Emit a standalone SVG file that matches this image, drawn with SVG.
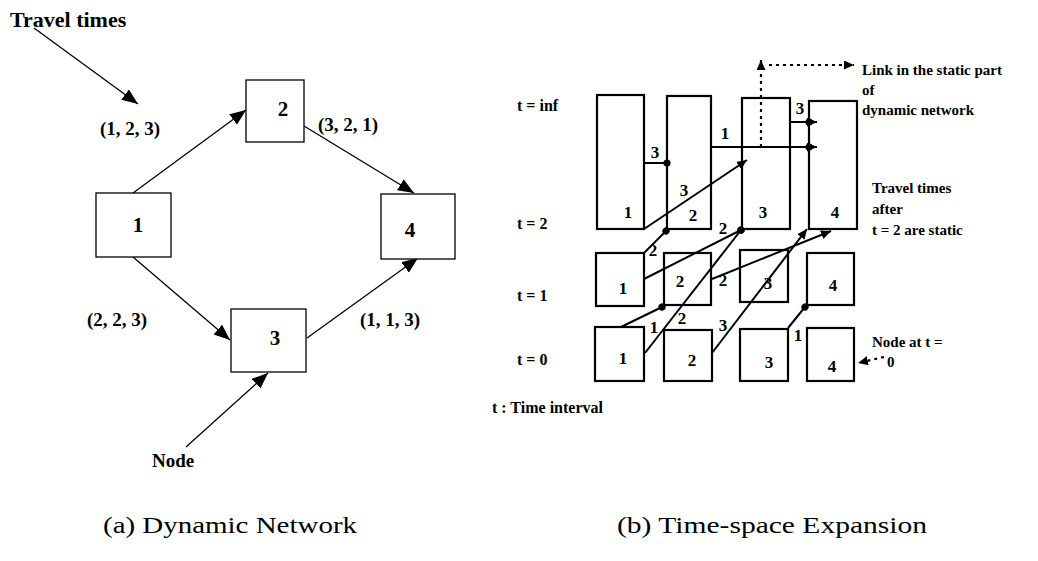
<svg xmlns="http://www.w3.org/2000/svg" width="1038" height="561" viewBox="0 0 1038 561">
<style>
text{font-family:"Liberation Serif","Times New Roman",serif;fill:#000}
.b{font-weight:bold}
.lnode{fill:#fff;stroke:#000;stroke-width:1.3}
.rnode{fill:#fff;stroke:#000;stroke-width:2.2}
.lc{stroke:#000;stroke-width:1.3;fill:none}
.rc{stroke:#000;stroke-width:2;fill:none}
.dot{stroke:#000;stroke-width:2.2;stroke-dasharray:3 4;fill:none}
.ln{font-size:21px;font-weight:bold}
.lt{font-size:19px;font-weight:bold}
.rn{font-size:17px;font-weight:bold}
.rl{font-size:16px;font-weight:bold}
.ann{font-size:15px;font-weight:bold}
.cap{font-size:23px}
</style>
<defs>
<marker id="bigArr" markerUnits="userSpaceOnUse" markerWidth="18" markerHeight="14" refX="16" refY="6.5" orient="auto"><path d="M0,0 L16,6.5 L0,13 z" fill="#000"/></marker>
<marker id="smArr" markerUnits="userSpaceOnUse" markerWidth="12" markerHeight="10" refX="10" refY="4.5" orient="auto"><path d="M0,0 L10,4.5 L0,9 z" fill="#000"/></marker>
<marker id="dotEnd" markerUnits="userSpaceOnUse" markerWidth="10" markerHeight="10" refX="5" refY="5" orient="auto"><circle cx="5" cy="5" r="3.6" fill="#000"/></marker>
</defs>

<!-- Left: dynamic network -->
<g id="connectors-left">
<line class="lc" x1="34" y1="28" x2="138" y2="104" marker-end="url(#bigArr)"/>
<line class="lc" x1="133" y1="193" x2="246" y2="110" marker-end="url(#bigArr)"/>
<line class="lc" x1="304" y1="126" x2="414" y2="193" marker-end="url(#bigArr)"/>
<line class="lc" x1="133" y1="257" x2="230" y2="340" marker-end="url(#bigArr)"/>
<line class="lc" x1="307" y1="338" x2="418" y2="258" marker-end="url(#bigArr)"/>
<line class="lc" x1="186" y1="447" x2="268" y2="373" marker-end="url(#bigArr)"/>
</g>
<g id="ln1"><rect class="lnode" x="96" y="193" width="75" height="64"/><text class="ln" x="138" y="232" text-anchor="middle">1</text></g>
<g id="ln2"><rect class="lnode" x="246" y="80" width="58" height="62"/><text class="ln" x="283" y="116" text-anchor="middle">2</text></g>
<g id="ln3"><rect class="lnode" x="231" y="309" width="75" height="63"/><text class="ln" x="275" y="345" text-anchor="middle">3</text></g>
<g id="ln4"><rect class="lnode" x="381" y="194" width="74" height="65"/><text class="ln" x="410" y="237" text-anchor="middle">4</text></g>
<g id="labels-left">
<text class="b" x="10" y="27" font-size="22">Travel times</text>
<text class="lt" x="100" y="135">(1, 2, 3)</text>
<text class="lt" x="318" y="131">(3, 2, 1)</text>
<text class="lt" x="87" y="326">(2, 2, 3)</text>
<text class="lt" x="360" y="326">(1, 1, 3)</text>
<text class="lt" x="152" y="467">Node</text>
</g>

<!-- Right: time-space expansion -->
<g id="s1"><rect class="rnode" x="597" y="95" width="47" height="134"/><text class="rn" x="628" y="218" text-anchor="middle">1</text></g>
<g id="s2"><rect class="rnode" x="667" y="96" width="44" height="133"/><text class="rn" x="693" y="221" text-anchor="middle">2</text></g>
<g id="s3"><rect class="rnode" x="742" y="98" width="48" height="131"/><text class="rn" x="763" y="218" text-anchor="middle">3</text></g>
<g id="s4"><rect class="rnode" x="809" y="101" width="48" height="128"/><text class="rn" x="835" y="218" text-anchor="middle">4</text></g>
<g id="a1"><rect class="rnode" x="596" y="253" width="48" height="53"/><text class="rn" x="623" y="294" text-anchor="middle">1</text></g>
<g id="a2"><rect class="rnode" x="664" y="253" width="47" height="52"/><text class="rn" x="680" y="287" text-anchor="middle">2</text></g>
<g id="a3"><rect class="rnode" x="740" y="250" width="48" height="52"/><text class="rn" x="768" y="289" text-anchor="middle">3</text></g>
<g id="a4"><rect class="rnode" x="807" y="253" width="47" height="52"/><text class="rn" x="833" y="291" text-anchor="middle">4</text></g>
<g id="b1"><rect class="rnode" x="595" y="327" width="49" height="54"/><text class="rn" x="623" y="364" text-anchor="middle">1</text></g>
<g id="b2"><rect class="rnode" x="664" y="330" width="48" height="51"/><text class="rn" x="692" y="366" text-anchor="middle">2</text></g>
<g id="b3"><rect class="rnode" x="740" y="329" width="48" height="52"/><text class="rn" x="769" y="368" text-anchor="middle">3</text></g>
<g id="b4"><rect class="rnode" x="807" y="328" width="47" height="53"/><text class="rn" x="832" y="372" text-anchor="middle">4</text></g>

<g id="connectors-right">
<line class="rc" x1="644" y1="163" x2="667" y2="163" marker-end="url(#dotEnd)"/>
<line class="rc" x1="711" y1="147" x2="817" y2="147" marker-end="url(#smArr)"/>
<circle cx="809" cy="147" r="3.6"/>
<line class="rc" x1="790" y1="122" x2="817" y2="122" marker-end="url(#smArr)"/>
<circle cx="809" cy="122" r="3.6"/>
<line class="rc" x1="644" y1="229" x2="747" y2="160" marker-end="url(#smArr)"/>
<line class="rc" x1="644" y1="253" x2="666" y2="231" marker-end="url(#dotEnd)"/>
<line class="rc" x1="644" y1="279" x2="741" y2="230" marker-end="url(#dotEnd)"/>
<line class="rc" x1="621" y1="327" x2="662" y2="307" marker-end="url(#dotEnd)"/>
<line class="rc" x1="645" y1="353" x2="741" y2="230" marker-end="url(#dotEnd)"/>
<line class="rc" x1="712" y1="279" x2="831" y2="231" marker-end="url(#smArr)"/>
<line class="rc" x1="712" y1="353" x2="807" y2="229" marker-end="url(#smArr)"/>
<line class="rc" x1="788" y1="328" x2="805" y2="307" marker-end="url(#dotEnd)"/>
<line class="dot" x1="761" y1="147" x2="761" y2="60" marker-end="url(#smArr)"/>
<line class="dot" x1="769" y1="65" x2="854" y2="65" marker-end="url(#smArr)"/>
<line class="dot" x1="884" y1="357" x2="858" y2="363" marker-end="url(#smArr)"/>
</g>

<g id="labels-right">
<text class="rn" x="655" y="158" text-anchor="middle">3</text>
<text class="rn" x="725" y="139" text-anchor="middle">1</text>
<text class="rn" x="800" y="114" text-anchor="middle">3</text>
<text class="rn" x="684" y="196" text-anchor="middle">3</text>
<text class="rn" x="653" y="256" text-anchor="middle">2</text>
<text class="rn" x="723" y="234" text-anchor="middle">2</text>
<text class="rn" x="723" y="286" text-anchor="middle">2</text>
<text class="rn" x="654" y="333" text-anchor="middle">1</text>
<text class="rn" x="682" y="324" text-anchor="middle">2</text>
<text class="rn" x="723" y="331" text-anchor="middle">3</text>
<text class="rn" x="798" y="341" text-anchor="middle">1</text>
<text class="rl" x="517" y="111">t = inf</text>
<text class="rl" x="517" y="229">t = 2</text>
<text class="rl" x="517" y="301">t = 1</text>
<text class="rl" x="517" y="365">t = 0</text>
<text class="rl" x="492" y="413">t : Time interval</text>
<text class="ann" x="862" y="75">Link in the static part</text>
<text class="ann" x="862" y="95">of</text>
<text class="ann" x="862" y="115">dynamic network</text>
<text class="ann" x="872" y="193">Travel times</text>
<text class="ann" x="872" y="214">after</text>
<text class="ann" x="872" y="235">t = 2 are static</text>
<text class="ann" x="872" y="347">Node at t =</text>
<text class="ann" x="887" y="367">0</text>
</g>

<g id="captions">
<text class="cap" x="103" y="533" textLength="254" lengthAdjust="spacingAndGlyphs">(a) Dynamic Network</text>
<text class="cap" x="617" y="533" textLength="310" lengthAdjust="spacingAndGlyphs">(b) Time-space Expansion</text>
</g>
</svg>
